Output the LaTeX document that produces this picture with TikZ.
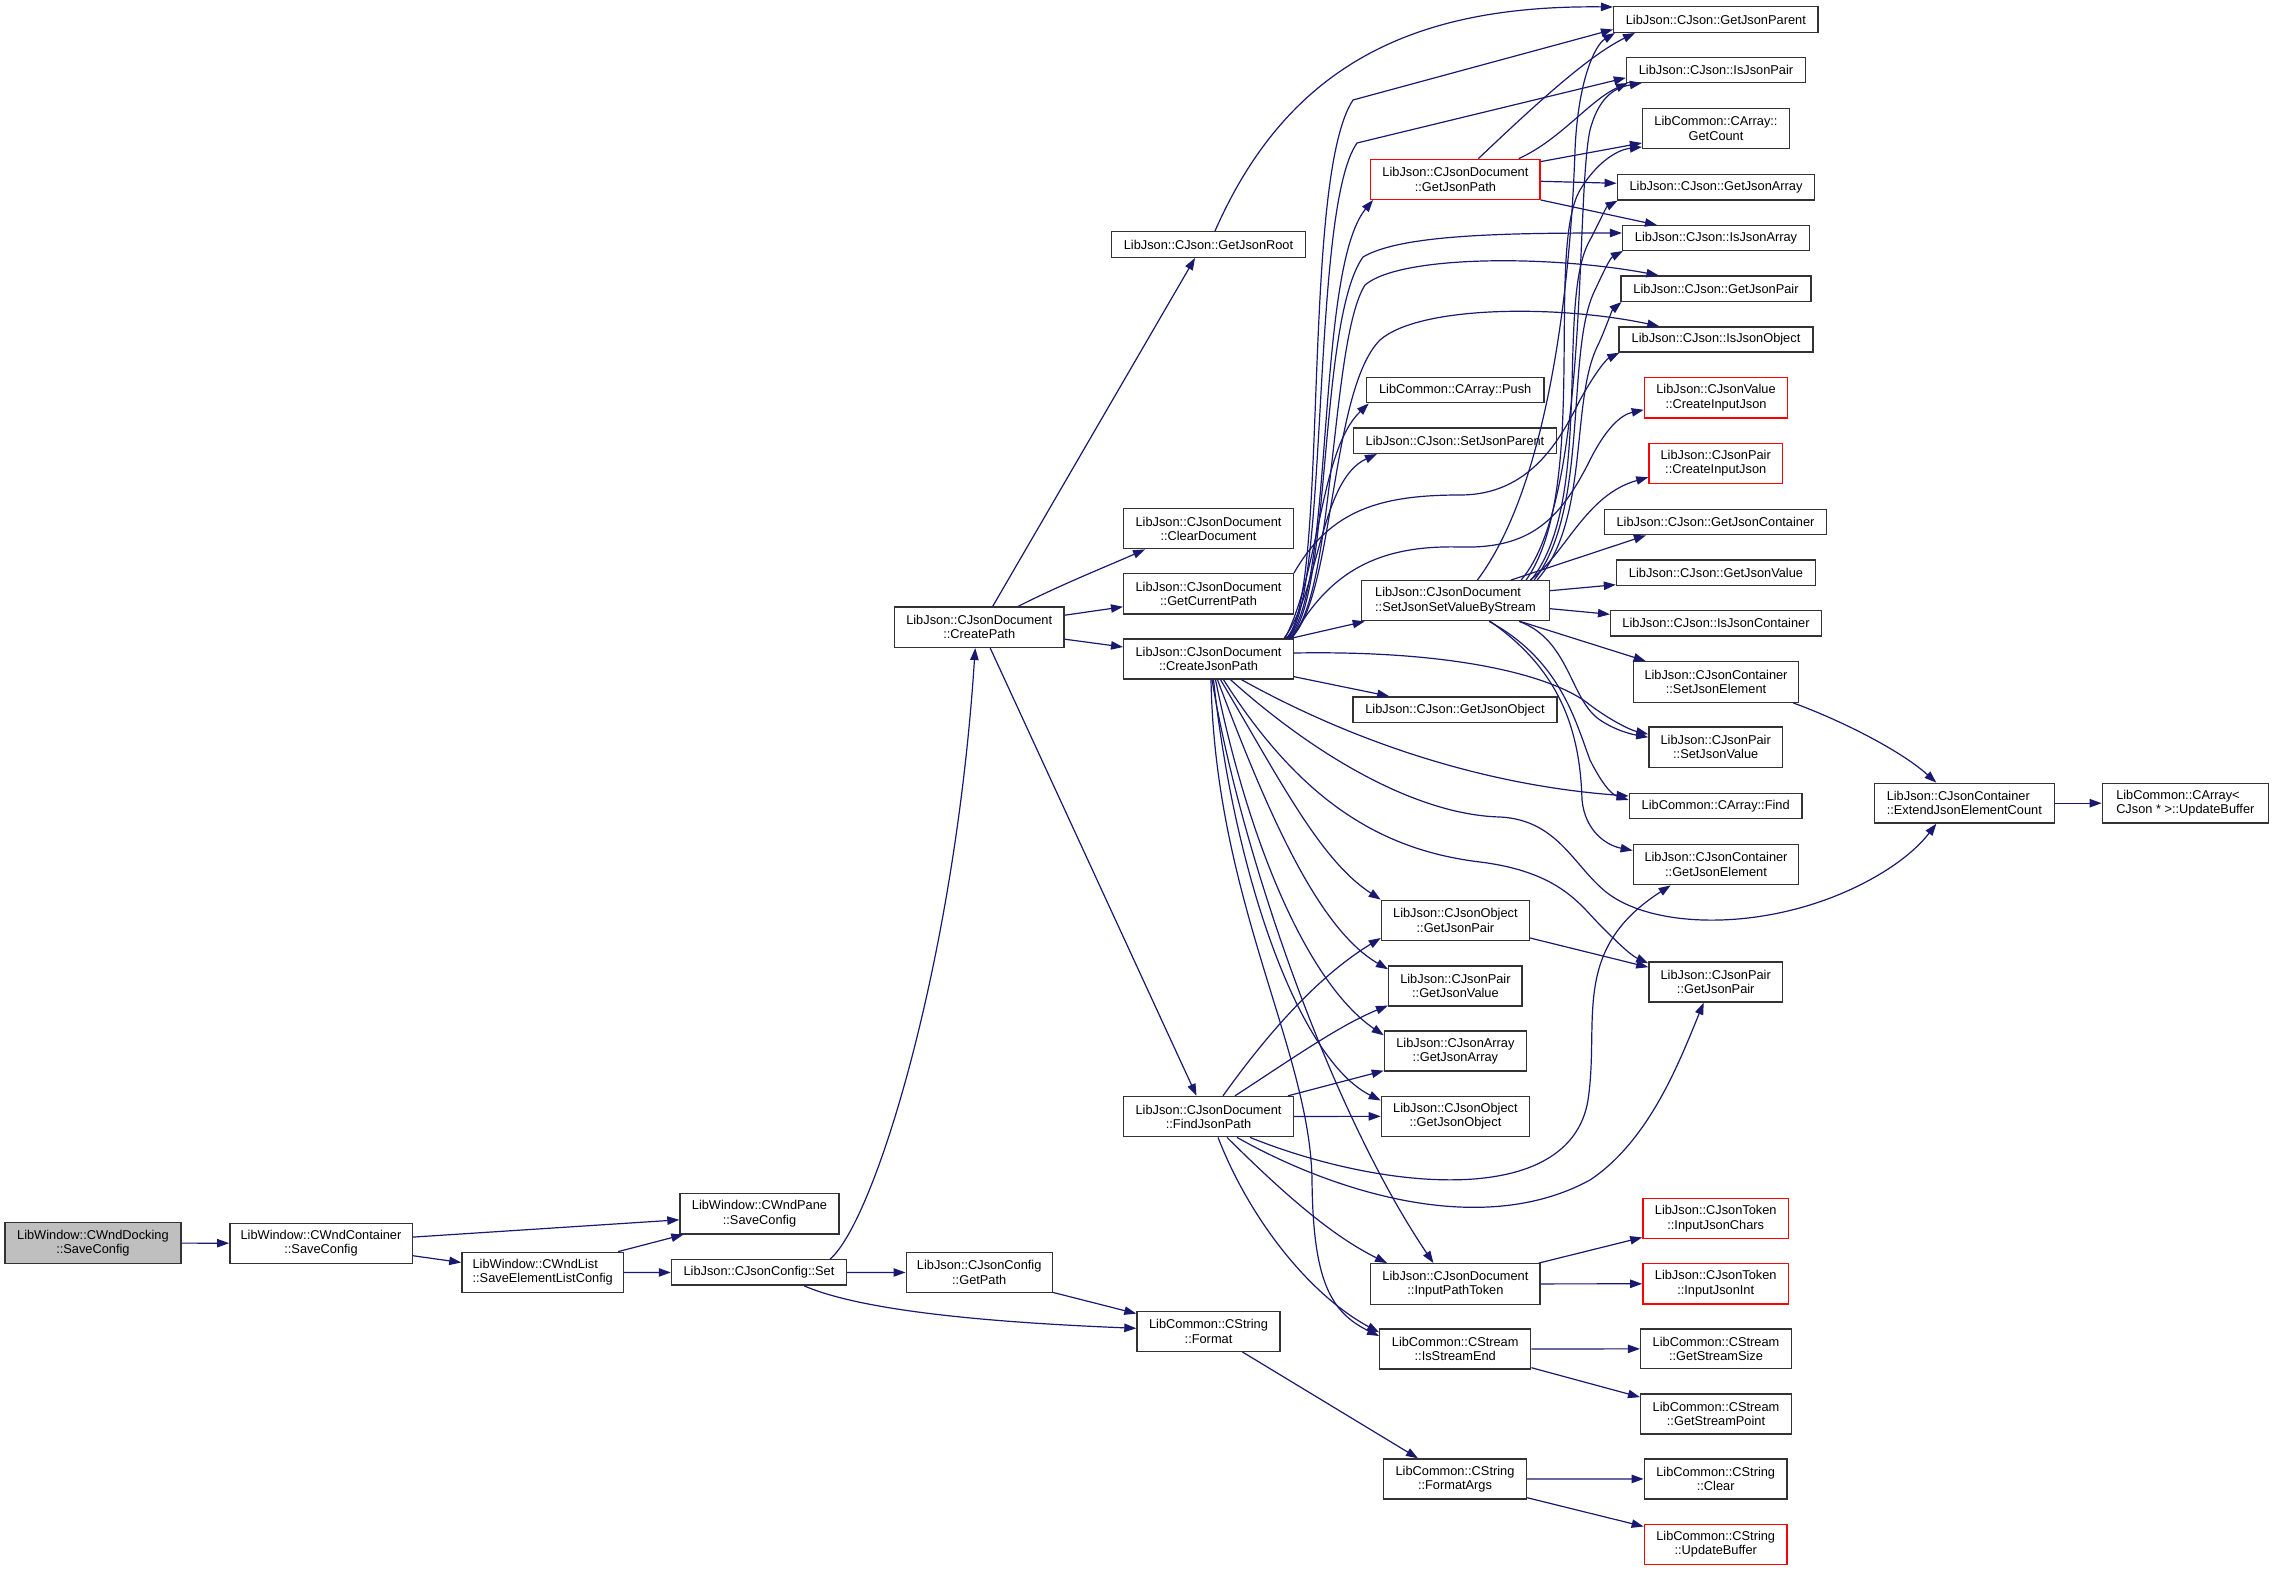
\documentclass[tikz,border=0pt]{standalone}
\usepackage{fontspec}
\setmainfont{Liberation Sans}
\usetikzlibrary{arrows.meta,calc}
\definecolor{edgeblue}{HTML}{191970}
\definecolor{nodeborder}{HTML}{333333}
\definecolor{dockgray}{HTML}{BFBFBF}
\newcommand\dxfont{\fontsize{6.4pt}{7.15pt}\selectfont}
\tikzset{
  box/.style={draw=nodeborder, line width=0.7pt, fill=white, inner sep=0pt, align=center, font=\dxfont},
  redbox/.style={box, draw=red},
  lbox/.style={box, align=left},
  sz/.style 2 args={minimum width=#1*0.5pt, minimum height=#2*0.5pt},
  e/.style={draw=edgeblue, line width=0.6pt, -{Triangle[length=6pt,width=4.2pt]}},
}
\begin{document}
\begin{tikzpicture}[x=0.5pt,y=-0.5pt]
\fill[white] (0,0) rectangle (2273,1572);
\useasboundingbox (0,0) rectangle (2273,1572);

% ---------- nodes ----------
\node[box, fill=dockgray, sz={175.8}{40.6}] (dock) at (92.9,1243) {LibWindow::CWndDocking\\::SaveConfig};
\node[box, sz={182.4}{40}] (cont) at (321,1243.3) {LibWindow::CWndContainer\\::SaveConfig};
\node[box, sz={159}{40.3}] (pane) at (759.5,1213.8) {LibWindow::CWndPane\\::SaveConfig};
\node[lbox, sz={161.6}{40.4}] (elist) at (542.7,1272.5) {LibWindow::CWndList\\::SaveElementListConfig};
\node[box, sz={175}{25.4}] (set) at (759,1272.4) {LibJson::CJsonConfig::Set};
\node[box, sz={146}{40.4}] (getpath) at (979.2,1272.5) {LibJson::CJsonConfig\\::GetPath};
\node[box, sz={143}{40}] (format) at (1208.5,1331.3) {LibCommon::CString\\::Format};
\node[box, sz={169.7}{40.3}] (cpath) at (979.2,627.2) {LibJson::CJsonDocument\\::CreatePath};
\node[box, sz={193.6}{25.6}] (gjroot) at (1208.5,244.5) {LibJson::CJson::GetJsonRoot};
\node[box, sz={169.6}{40}] (cleardoc) at (1208.5,528.7) {LibJson::CJsonDocument\\::ClearDocument};
\node[box, sz={169.6}{40.3}] (gcurpath) at (1208.5,593.8) {LibJson::CJsonDocument\\::GetCurrentPath};
\node[box, sz={169.6}{40}] (cjpath) at (1208.5,659) {LibJson::CJsonDocument\\::CreateJsonPath};
\node[box, sz={169.6}{40.2}] (fjpath) at (1208.5,1116.6) {LibJson::CJsonDocument\\::FindJsonPath};

\node[redbox, sz={169.3}{40}] (gjpath) at (1455.4,179.3) {LibJson::CJsonDocument\\::GetJsonPath};
\node[box, sz={177.5}{25.4}] (push) at (1455.2,390) {LibCommon::CArray::Push};
\node[box, sz={202.8}{25.3}] (setjparent) at (1455,440.7) {LibJson::CJson::SetJsonParent};
\node[lbox, sz={188}{40}] (svs) at (1455.4,600.7) {LibJson::CJsonDocument\\::SetJsonSetValueByStream};
\node[box, sz={204.2}{25.7}] (gjobjC) at (1455,709.8) {LibJson::CJson::GetJsonObject};
\node[box, sz={148}{40}] (ogjpair) at (1455.4,920.3) {LibJson::CJsonObject\\::GetJsonPair};
\node[box, sz={133.5}{40}] (pgjvalue) at (1455.4,985.9) {LibJson::CJsonPair\\::GetJsonValue};
\node[box, sz={142}{40}] (agjarray) at (1455.4,1051) {LibJson::CJsonArray\\::GetJsonArray};
\node[box, sz={148}{40}] (ogjobj) at (1455.4,1116.2) {LibJson::CJsonObject\\::GetJsonObject};
\node[box, sz={169.3}{40.5}] (ipt) at (1455.4,1284) {LibJson::CJsonDocument\\::InputPathToken};
\node[box, sz={151}{40}] (ise) at (1455.2,1349) {LibCommon::CStream\\::IsStreamEnd};
\node[box, sz={143}{40}] (fargs) at (1455,1479) {LibCommon::CString\\::FormatArgs};

\node[box, sz={204.3}{25.6}] (gjparent) at (1715.8,19.5) {LibJson::CJson::GetJsonParent};
\node[box, sz={179}{25}] (isjpair) at (1716,69.8) {LibJson::CJson::IsJsonPair};
\node[box, sz={146.8}{39.6}] (getcount) at (1716,128.5) {LibCommon::CArray::\\GetCount};
\node[box, sz={197.5}{25.3}] (gjarray) at (1716,187.3) {LibJson::CJson::GetJsonArray};
\node[box, sz={186.8}{24.6}] (isjarray) at (1716,238) {LibJson::CJson::IsJsonArray};
\node[box, sz={189.7}{25.3}] (gjpairC) at (1716,288.7) {LibJson::CJson::GetJsonPair};
\node[box, sz={194}{25}] (isjobject) at (1716,339.5) {LibJson::CJson::IsJsonObject};
\node[redbox, sz={143.2}{40.3}] (valcij) at (1716,397.8) {LibJson::CJsonValue\\::CreateInputJson};
\node[redbox, sz={133.6}{40}] (paircij) at (1715.7,463.3) {LibJson::CJsonPair\\::CreateInputJson};
\node[box, sz={221.8}{25.4}] (gjcont) at (1715.5,522) {LibJson::CJson::GetJsonContainer};
\node[box, sz={199}{25.3}] (gjvalue) at (1716,572.7) {LibJson::CJson::GetJsonValue};
\node[box, sz={210.7}{25.3}] (isjcont) at (1716,623.3) {LibJson::CJson::IsJsonContainer};
\node[box, sz={165.4}{40.6}] (setjel) at (1716,682) {LibJson::CJsonContainer\\::SetJsonElement};
\node[box, sz={133.6}{40.3}] (setjval) at (1715.7,747.2) {LibJson::CJsonPair\\::SetJsonValue};
\node[box, sz={172.8}{25.4}] (find) at (1715.7,806) {LibCommon::CArray::Find};
\node[box, sz={165.4}{40.4}] (getjel) at (1716,864.5) {LibJson::CJsonContainer\\::GetJsonElement};
\node[box, sz={133.6}{40}] (pgjpair) at (1715.7,981.9) {LibJson::CJsonPair\\::GetJsonPair};
\node[redbox, sz={145.7}{40}] (ijchars) at (1715.7,1218.7) {LibJson::CJsonToken\\::InputJsonChars};
\node[redbox, sz={145.7}{40.5}] (ijint) at (1715.7,1283.7) {LibJson::CJsonToken\\::InputJsonInt};
\node[box, sz={150.7}{39.6}] (gss) at (1716,1348.8) {LibCommon::CStream\\::GetStreamSize};
\node[box, sz={150.7}{40}] (gsp) at (1716,1413.8) {LibCommon::CStream\\::GetStreamPoint};
\node[box, sz={142.8}{40}] (sclear) at (1715.7,1478.9) {LibCommon::CString\\::Clear};
\node[redbox, sz={142.8}{40}] (supd) at (1715.7,1544.5) {LibCommon::CString\\::UpdateBuffer};

\node[lbox, sz={180}{39.7}] (ext) at (1964.3,803.2) {LibJson::CJsonContainer\\::ExtendJsonElementCount};
\node[lbox, sz={166}{39.7}] (ubuf) at (2185.3,803.2) {LibCommon::CArray<\\ CJson * >::UpdateBuffer};

% ---------- left chain ----------
\draw[e] (dock) -- (cont);
\draw[e] ($(cont.north east)!0.35!(cont.south east)$) -- ($(pane.west)+(0,6)$);
\draw[e] ($(cont.north east)!0.8!(cont.south east)$) -- ($(elist.west)+(0,-10)$);
\draw[e] ($(elist.north east)+(-6,0)$) -- ($(pane.south west)+(4,0)$);
\draw[e] (elist) -- (set);
\draw[e] ($(set.north east)+(-17,0)$) .. controls (875,1220) and (955,960) .. ($(cpath.south)+(-4,0)$);
\draw[e] (set) -- (getpath);
\draw[e] ($(set.south)+(45,0)$) .. controls (860,1310) and (980,1322) .. ($(format.west)+(0,-3)$);
\draw[e] ($(getpath.south east)+(0,-1)$) -- ($(format.north west)+(0,3)$);
\draw[e] ($(format.south)+(34,0)$) -- ($(fargs.north)+(-37,0)$);
\draw[e] (fargs) -- (sclear);
\draw[e] ($(fargs.south east)+(0,-2)$) -- ($(supd.west)+(0,-18)$);

% ---------- CreatePath ----------
\draw[e] ($(cpath.north)+(13.5,0)$) -- ($(gjroot.south)+(-13.5,0)$);
\draw[e] ($(cpath.north)+(39,0)$) .. controls (1060,585) and (1110,565) .. ($(cleardoc.south west)+(22,0)$);
\draw[e] ($(cpath.east)+(0,-12)$) -- ($(gcurpath.west)+(0,13)$);
\draw[e] ($(cpath.east)+(0,12)$) -- ($(cjpath.west)+(0,-12)$);
\draw[e] ($(cpath.south)+(11,0)$) -- ($(fjpath.north)+(-12,0)$);

\draw[e] ($(gjroot.north)+(6.5,0)$) .. controls (1290,60) and (1420,5) .. ($(gjparent.north west)+(0,1)$);

% ---------- CreateJsonPath upward ----------
\draw[e] ($(cjpath.north east)+(-8,0)$) .. controls (1330,600) and (1300,180) .. (1353,100) -- ($(gjparent.west)+(0,10)$);
\draw[e] ($(cjpath.north east)+(-7,0)$) .. controls (1330,600) and (1310,210) .. (1357,143) -- ($(isjpair.west)+(0,8)$);
\draw[e] ($(cjpath.north east)+(-6,0)$) .. controls (1335,590) and (1315,270) .. ($(gjpath.south west)+(3,0)$);
\draw[e] ($(cjpath.north east)+(-5,0)$) .. controls (1332,600) and (1318,320) .. (1363,257) .. controls (1400,235) and (1500,233) .. ($(isjarray.west)+(0,-5)$);
\draw[e] ($(cjpath.north east)+(-4,0)$) .. controls (1335,600) and (1330,340) .. (1365,285) .. controls (1400,255) and (1550,255) .. ($(gjpairC.north west)+(38,0)$);
\draw[e] ($(cjpath.north east)+(-3,0)$) .. controls (1335,595) and (1330,390) .. (1380,340) .. controls (1420,305) and (1560,305) .. ($(isjobject.north west)+(41,0)$);
\draw[e] ($(cjpath.north east)+(-2,0)$) .. controls (1330,570) and (1380,545) .. (1460,547) .. controls (1530,549) and (1560,520) .. (1590,460) .. controls (1605,430) and (1620,415) .. ($(valcij.west)+(0,12)$);
\draw[e] ($(cjpath.north east)+(-9,0)$) .. controls (1320,570) and (1320,450) .. ($(push.south west)+(3,0)$);
\draw[e] ($(cjpath.north east)+(-10,0)$) .. controls (1320,590) and (1320,480) .. ($(setjparent.south west)+(24,0)$);
\draw[e] ($(cjpath.north east)+(-3,0)$) -- ($(svs.south west)+(4,0)$);

% ---------- CreateJsonPath right / down ----------
\draw[e] ($(cjpath.east)+(0,-6)$) .. controls (1470,650) and (1560,680) .. (1590,705) .. controls (1610,720) and (1630,730) .. ($(setjval.west)+(0,-13)$);
\draw[e] ($(cjpath.south east)+(0,-3)$) -- ($(gjobjC.north west)+(37,0)$);
\draw[e] ($(cjpath.south)+(33,0)$) .. controls (1350,740) and (1480,785) .. ($(find.west)+(0,-10)$);
\draw[e] ($(cjpath.south)+(22,0)$) .. controls (1320,760) and (1420,815) .. (1500,817) .. controls (1560,820) and (1575,870) .. (1610,895) .. controls (1660,930) and (1770,930) .. (1860,885) .. controls (1900,865) and (1920,845) .. ($(ext.south)+(-28,0)$);
\draw[e] ($(cjpath.south)+(15,0)$) .. controls (1300,800) and (1380,850) .. (1480,862) .. controls (1560,872) and (1580,905) .. (1600,925) .. controls (1615,940) and (1630,955) .. ($(pgjpair.north west)+(0,2)$);
\draw[e] ($(cjpath.south)+(12,0)$) .. controls (1280,780) and (1320,860) .. (ogjpair.north west);
\draw[e] ($(cjpath.south)+(9,0)$) .. controls (1270,820) and (1320,930) .. ($(pgjvalue.north west)+(0,4)$);
\draw[e] ($(cjpath.south)+(7,0)$) .. controls (1250,850) and (1310,985) .. ($(agjarray.north west)+(0,5)$);
\draw[e] ($(cjpath.south)+(5,0)$) .. controls (1235,880) and (1300,1060) .. ($(ogjobj.north west)+(0,5)$);
\draw[e] ($(cjpath.south)+(3.5,0)$) .. controls (1240,850) and (1330,1110) .. ($(ipt.north)+(-22,0)$);
\draw[e] ($(cjpath.south)+(2.5,0)$) .. controls (1215,900) and (1310,1050) .. (1312,1180) .. controls (1313,1280) and (1330,1312) .. ($(ise.west)+(0,-13)$);

% ---------- FindJsonPath ----------
\draw[e] ($(fjpath.north)+(14.5,0)$) .. controls (1270,1030) and (1320,975) .. ($(ogjpair.south west)+(0,-3)$);
\draw[e] ($(fjpath.north)+(26.5,0)$) .. controls (1290,1060) and (1340,1025) .. ($(pgjvalue.south west)+(0,-1)$);
\draw[e] ($(fjpath.north east)+(-6,0)$) -- ($(agjarray.south west)+(0,-1)$);
\draw[e] (fjpath) -- (ogjobj);
\draw[e] ($(fjpath.south)+(41.5,0)$) .. controls (1380,1190) and (1570,1210) .. (1588,1100) .. controls (1600,1020) and (1570,950) .. ($(getjel.south west)+(38,0)$);
\draw[e] ($(fjpath.south)+(28.5,0)$) .. controls (1330,1190) and (1480,1240) .. (1590,1180) .. controls (1650,1140) and (1680,1060) .. ($(pgjpair.south)+(-12,0)$);
\draw[e] ($(fjpath.south)+(18.5,0)$) .. controls (1280,1190) and (1330,1235) .. ($(ipt.north west)+(17,0)$);
\draw[e] ($(fjpath.south)+(9.5,0)$) .. controls (1250,1220) and (1310,1295) .. ($(ise.north west)+(0,4)$);

% ---------- small fan-outs ----------
\draw[e] ($(ipt.north east)+(-2,0)$) -- ($(ijchars.south west)+(0,-2)$);
\draw[e] (ipt) -- (ijint);
\draw[e] (ise) -- (gss);
\draw[e] ($(ise.south east)+(0,-2)$) -- ($(gsp.north west)+(0,4)$);
\draw[e] ($(ogjpair.south east)+(0,-3)$) -- ($(pgjpair.north west)+(0,6)$);

% ---------- GetJsonPath ----------
\draw[e] ($(gjpath.north)+(23,0)$) .. controls (1540,100) and (1590,55) .. ($(gjparent.south west)+(22,0)$);
\draw[e] ($(gjpath.north east)+(-22,0)$) .. controls (1560,140) and (1590,100) .. ($(isjpair.south west)+(2,0)$);
\draw[e] ($(gjpath.north east)+(0,3)$) -- ($(getcount.south west)+(0,-6)$);
\draw[e] ($(gjpath.east)+(0,2)$) -- ($(gjarray.west)+(0,-4)$);
\draw[e] (gjpath.south east) -- ($(isjarray.north west)+(35,0)$);

% ---------- SetJsonSetValueByStream ----------
\draw[e] ($(svs.north)+(22,0)$) .. controls (1545,490) and (1570,300) .. (1575,150) .. controls (1578,80) and (1595,45) .. ($(gjparent.south west)+(2,0)$);
\draw[e] ($(svs.north east)+(-29,0)$) .. controls (1590,500) and (1575,200) .. (1590,130) .. controls (1598,100) and (1612,88) .. ($(isjpair.south west)+(16,0)$);
\draw[e] ($(svs.north east)+(-24,0)$) .. controls (1590,490) and (1545,250) .. (1580,190) .. controls (1595,165) and (1615,150) .. ($(getcount.south west)+(0,-2)$);
\draw[e] ($(svs.north east)+(-19,0)$) .. controls (1595,500) and (1555,300) .. (1590,240) .. controls (1598,225) and (1606,207) .. ($(gjarray.south west)+(1,0)$);
\draw[e] ($(svs.north east)+(-16,0)$) .. controls (1590,510) and (1565,350) .. (1595,290) .. controls (1602,275) and (1610,258) .. ($(isjarray.south west)+(1,0)$);
\draw[e] ($(svs.north east)+(-13,0)$) .. controls (1590,520) and (1570,400) .. (1598,345) .. controls (1605,330) and (1612,310) .. ($(gjpairC.south west)+(1,0)$);
\draw[e] ($(svs.north east)+(-20,0)$) .. controls (1565,555) and (1585,495) .. ($(paircij.west)+(0,14)$);
\draw[e] ($(svs.north east)+(-39,0)$) -- ($(gjcont.south west)+(42,0)$);
\draw[e] ($(svs.east)+(0,-10)$) -- ($(gjvalue.west)+(0,12)$);
\draw[e] ($(svs.east)+(0,8)$) -- ($(isjcont.west)+(0,-9)$);
\draw[e] ($(svs.south east)+(-30,0)$) -- ($(setjel.north west)+(13,0)$);
\draw[e] ($(svs.south east)+(-31,0)$) .. controls (1570,640) and (1570,700) .. (1600,720) .. controls (1615,730) and (1630,734) .. ($(setjval.west)+(0,-10)$);
\draw[e] ($(svs.south east)+(-61,0)$) .. controls (1560,660) and (1575,720) .. (1590,760) .. controls (1600,780) and (1610,794) .. ($(find.west)+(0,-6)$);
\draw[e] ($(svs.south east)+(-60,0)$) .. controls (1560,670) and (1580,730) .. (1582,800) .. controls (1585,830) and (1605,845) .. ($(getjel.west)+(0,-14)$);

% ---------- GetCurrentPath ----------
\draw[e] (gcurpath.north east) .. controls (1330,510) and (1380,495) .. (1460,495) .. controls (1530,495) and (1560,440) .. (1580,400) .. controls (1592,378) and (1605,360) .. ($(isjobject.south west)+(1,0)$);

% ---------- Containers ----------
\draw[e] ($(setjel.south east)+(-6,0)$) .. controls (1840,720) and (1900,750) .. ($(ext.north)+(-28,0)$);
\draw[e] (ext) -- (ubuf);
\end{tikzpicture}
\end{document}
